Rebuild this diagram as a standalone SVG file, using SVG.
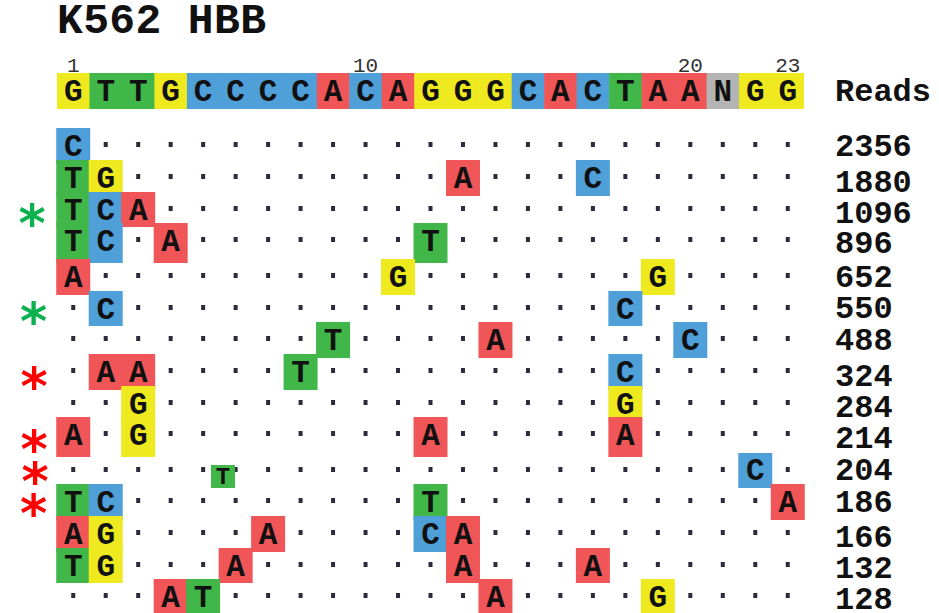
<svg xmlns="http://www.w3.org/2000/svg" xmlns:xlink="http://www.w3.org/1999/xlink" width="939" height="613" viewBox="0 0 939 613">
<style>
.y{fill:#eeea1f}.g{fill:#42b749}.b{fill:#4f9fd9}.r{fill:#f05558}.n{fill:#b4b4b4}
.L{font-family:"Liberation Mono","DejaVu Sans Mono",monospace;font-weight:bold;font-size:31px;fill:#111;text-anchor:middle}
.num{font-family:"Liberation Mono","DejaVu Sans Mono",monospace;font-weight:bold;font-size:32px;fill:#111}
.pos{font-family:"Liberation Mono","DejaVu Sans Mono",monospace;font-size:21px;fill:#333;text-anchor:middle}
.ttl{font-family:"Liberation Mono","DejaVu Sans Mono",monospace;font-weight:bold;font-size:43px;fill:#111}
.d{fill:#2b2b3b}
.sg{fill:#0bb04f}.sr{fill:#ff0000}
.ast{font-family:"DejaVu Sans",sans-serif;font-weight:bold;font-size:52px;text-anchor:middle}
</style>
<defs>
<path id="dotrow" class="d" d="M71.24 0h4v5h-4z m32.478 0h4v5h-4z m32.478 0h4v5h-4z m32.478 0h4v5h-4z m32.478 0h4v5h-4z m32.478 0h4v5h-4z m32.478 0h4v5h-4z m32.478 0h4v5h-4z m32.478 0h4v5h-4z m32.478 0h4v5h-4z m32.478 0h4v5h-4z m32.478 0h4v5h-4z m32.478 0h4v5h-4z m32.478 0h4v5h-4z m32.478 0h4v5h-4z m32.478 0h4v5h-4z m32.478 0h4v5h-4z m32.478 0h4v5h-4z m32.478 0h4v5h-4z m32.478 0h4v5h-4z m32.478 0h4v5h-4z m32.478 0h4v5h-4z m32.478 0h4v5h-4z"/>
</defs>
<rect width="939" height="613" fill="#fff"/>
<g id="title"><text class="ttl" x="57" y="33" textLength="209">K562 HBB</text></g>
<g id="positions">
<text class="pos" x="73.2" y="72">1</text>
<text class="pos" x="365.5" y="72">10</text>
<text class="pos" x="690.3" y="72">20</text>
<text class="pos" x="787.8" y="72">23</text>
</g>
<g id="reference">
<rect class="y" x="57" y="73" width="33" height="36"/>
<rect class="g" x="89.48" y="73" width="33" height="36"/>
<rect class="g" x="121.96" y="73" width="33" height="36"/>
<rect class="y" x="154.43" y="73" width="33" height="36"/>
<rect class="b" x="186.91" y="73" width="33" height="36"/>
<rect class="b" x="219.39" y="73" width="33" height="36"/>
<rect class="b" x="251.87" y="73" width="33" height="36"/>
<rect class="b" x="284.35" y="73" width="33" height="36"/>
<rect class="r" x="316.82" y="73" width="33" height="36"/>
<rect class="b" x="349.3" y="73" width="33" height="36"/>
<rect class="r" x="381.78" y="73" width="33" height="36"/>
<rect class="y" x="414.26" y="73" width="33" height="36"/>
<rect class="y" x="446.74" y="73" width="33" height="36"/>
<rect class="y" x="479.21" y="73" width="33" height="36"/>
<rect class="b" x="511.69" y="73" width="33" height="36"/>
<rect class="r" x="544.17" y="73" width="33" height="36"/>
<rect class="b" x="576.65" y="73" width="33" height="36"/>
<rect class="g" x="609.13" y="73" width="33" height="36"/>
<rect class="r" x="641.6" y="73" width="33" height="36"/>
<rect class="r" x="674.08" y="73" width="33" height="36"/>
<rect class="n" x="706.56" y="73" width="33" height="36"/>
<rect class="y" x="739.04" y="73" width="33" height="36"/>
<rect class="y" x="771.52" y="73" width="32.48" height="36"/>
<text class="L" y="101"><tspan x="73.24">G</tspan><tspan x="105.72">T</tspan><tspan x="138.2">T</tspan><tspan x="170.67">G</tspan><tspan x="203.15">C</tspan><tspan x="235.63">C</tspan><tspan x="268.11">C</tspan><tspan x="300.59">C</tspan><tspan x="333.06">A</tspan><tspan x="365.54">C</tspan><tspan x="398.02">A</tspan><tspan x="430.5">G</tspan><tspan x="462.98">G</tspan><tspan x="495.45">G</tspan><tspan x="527.93">C</tspan><tspan x="560.41">A</tspan><tspan x="592.89">C</tspan><tspan x="625.37">T</tspan><tspan x="657.84">A</tspan><tspan x="690.32">A</tspan><tspan x="722.8">N</tspan><tspan x="755.28">G</tspan><tspan x="787.76">G</tspan></text>
</g>
<g id="reads">
<text class="num" x="835" y="101">Reads</text>
<text class="num" x="835" y="156">2356</text>
<text class="num" x="835" y="192">1880</text>
<text class="num" x="835" y="223">1096</text>
<text class="num" x="835" y="253">896</text>
<text class="num" x="835" y="287">652</text>
<text class="num" x="835" y="318">550</text>
<text class="num" x="835" y="350">488</text>
<text class="num" x="835" y="386">324</text>
<text class="num" x="835" y="417">284</text>
<text class="num" x="835" y="448">214</text>
<text class="num" x="835" y="480">204</text>
<text class="num" x="835" y="512">186</text>
<text class="num" x="835" y="547">166</text>
<text class="num" x="835" y="578">132</text>
<text class="num" x="835" y="609">128</text>
</g>
<g id="dots">
<use href="#dotrow" y="142"/>
<use href="#dotrow" y="174"/>
<use href="#dotrow" y="206"/>
<use href="#dotrow" y="237"/>
<use href="#dotrow" y="273"/>
<use href="#dotrow" y="305"/>
<use href="#dotrow" y="336"/>
<use href="#dotrow" y="368"/>
<use href="#dotrow" y="400"/>
<use href="#dotrow" y="431"/>
<use href="#dotrow" y="467"/>
<use href="#dotrow" y="498"/>
<use href="#dotrow" y="530"/>
<use href="#dotrow" y="562"/>
<use href="#dotrow" y="593"/>
</g>
<g id="row1">
<rect class="b" x="56.24" y="128" width="34" height="36"/>
<text class="L" y="156"><tspan x="73.24">C</tspan></text>
</g>
<g id="row2">
<rect class="g" x="56.24" y="160" width="34" height="36"/>
<rect class="y" x="88.72" y="160" width="34" height="36"/>
<rect class="r" x="445.98" y="160" width="34" height="36"/>
<rect class="b" x="575.89" y="160" width="34" height="36"/>
<text class="L" y="188"><tspan x="73.24">T</tspan><tspan x="105.72">G</tspan><tspan x="462.98">A</tspan><tspan x="592.89">C</tspan></text>
</g>
<g id="row3">
<rect class="g" x="56.24" y="192" width="34" height="35"/>
<rect class="b" x="88.72" y="192" width="34" height="35"/>
<rect class="r" x="121.2" y="192" width="34" height="35"/>
<text class="L" y="220"><tspan x="73.24">T</tspan><tspan x="105.72">C</tspan><tspan x="138.2">A</tspan></text>
</g>
<g id="row4">
<rect class="g" x="56.24" y="223" width="34" height="40"/>
<rect class="b" x="88.72" y="223" width="34" height="40"/>
<rect class="r" x="153.67" y="223" width="34" height="40"/>
<rect class="g" x="413.5" y="223" width="34" height="40"/>
<text class="L" y="251"><tspan x="73.24">T</tspan><tspan x="105.72">C</tspan><tspan x="170.67">A</tspan><tspan x="430.5">T</tspan></text>
</g>
<g id="row5">
<rect class="r" x="56.24" y="259" width="34" height="36"/>
<rect class="y" x="381.02" y="259" width="34" height="36"/>
<rect class="y" x="640.84" y="259" width="34" height="36"/>
<text class="L" y="287"><tspan x="73.24">A</tspan><tspan x="398.02">G</tspan><tspan x="657.84">G</tspan></text>
</g>
<g id="row6">
<rect class="b" x="88.72" y="291" width="34" height="35"/>
<rect class="b" x="608.37" y="291" width="34" height="35"/>
<text class="L" y="319"><tspan x="105.72">C</tspan><tspan x="625.37">C</tspan></text>
</g>
<g id="row7">
<rect class="g" x="316.06" y="322" width="34" height="36"/>
<rect class="r" x="478.45" y="322" width="34" height="36"/>
<rect class="b" x="673.32" y="322" width="34" height="36"/>
<text class="L" y="350"><tspan x="333.06">T</tspan><tspan x="495.45">A</tspan><tspan x="690.32">C</tspan></text>
</g>
<g id="row8">
<rect class="r" x="88.72" y="354" width="34" height="36"/>
<rect class="r" x="121.2" y="354" width="34" height="36"/>
<rect class="g" x="283.59" y="354" width="34" height="36"/>
<rect class="b" x="608.37" y="354" width="34" height="36"/>
<text class="L" y="382"><tspan x="105.72">A</tspan><tspan x="138.2">A</tspan><tspan x="300.59">T</tspan><tspan x="625.37">C</tspan></text>
</g>
<g id="row9">
<rect class="y" x="121.2" y="386" width="34" height="35"/>
<rect class="y" x="608.37" y="386" width="34" height="35"/>
<text class="L" y="414"><tspan x="138.2">G</tspan><tspan x="625.37">G</tspan></text>
</g>
<g id="row10">
<rect class="r" x="56.24" y="417" width="34" height="40"/>
<rect class="y" x="121.2" y="417" width="34" height="40"/>
<rect class="r" x="413.5" y="417" width="34" height="40"/>
<rect class="r" x="608.37" y="417" width="34" height="40"/>
<text class="L" y="445"><tspan x="73.24">A</tspan><tspan x="138.2">G</tspan><tspan x="430.5">A</tspan><tspan x="625.37">A</tspan></text>
</g>
<g id="row11">
<rect class="g" x="211" y="465" width="24" height="23"/>
<text class="L" x="223" y="484" style="font-size:24px">T</text>
<rect class="b" x="738.28" y="453" width="34" height="35"/>
<text class="L" y="480"><tspan x="755.28">C</tspan></text>
</g>
<g id="row12">
<rect class="g" x="56.24" y="484" width="34" height="36"/>
<rect class="b" x="88.72" y="484" width="34" height="36"/>
<rect class="g" x="413.5" y="484" width="34" height="36"/>
<rect class="r" x="770.76" y="484" width="34" height="36"/>
<text class="L" y="512"><tspan x="73.24">T</tspan><tspan x="105.72">C</tspan><tspan x="430.5">T</tspan><tspan x="787.76">A</tspan></text>
</g>
<g id="row13">
<rect class="r" x="56.24" y="516" width="34" height="36"/>
<rect class="y" x="88.72" y="516" width="34" height="36"/>
<rect class="r" x="251.11" y="516" width="34" height="36"/>
<rect class="b" x="413.5" y="516" width="34" height="36"/>
<rect class="r" x="445.98" y="516" width="34" height="36"/>
<text class="L" y="544"><tspan x="73.24">A</tspan><tspan x="105.72">G</tspan><tspan x="268.11">A</tspan><tspan x="430.5">C</tspan><tspan x="462.98">A</tspan></text>
</g>
<g id="row14">
<rect class="g" x="56.24" y="548" width="34" height="35"/>
<rect class="y" x="88.72" y="548" width="34" height="35"/>
<rect class="r" x="218.63" y="548" width="34" height="35"/>
<rect class="r" x="445.98" y="548" width="34" height="35"/>
<rect class="r" x="575.89" y="548" width="34" height="35"/>
<text class="L" y="576"><tspan x="73.24">T</tspan><tspan x="105.72">G</tspan><tspan x="235.63">A</tspan><tspan x="462.98">A</tspan><tspan x="592.89">A</tspan></text>
</g>
<g id="row15">
<rect class="r" x="153.67" y="579" width="34" height="36"/>
<rect class="g" x="186.15" y="579" width="34" height="36"/>
<rect class="r" x="478.45" y="579" width="34" height="36"/>
<rect class="y" x="640.84" y="579" width="34" height="36"/>
<text class="L" y="607"><tspan x="170.67">A</tspan><tspan x="203.15">T</tspan><tspan x="495.45">A</tspan><tspan x="657.84">G</tspan></text>
</g>
<g id="markers">
<text class="ast sg" x="32" y="241">*</text>
<text class="ast sg" x="33.5" y="339">*</text>
<text class="ast sr" x="34" y="404">*</text>
<text class="ast sr" x="34" y="467">*</text>
<text class="ast sr" x="35" y="499">*</text>
<text class="ast sr" x="33.5" y="531">*</text>
</g>
</svg>
